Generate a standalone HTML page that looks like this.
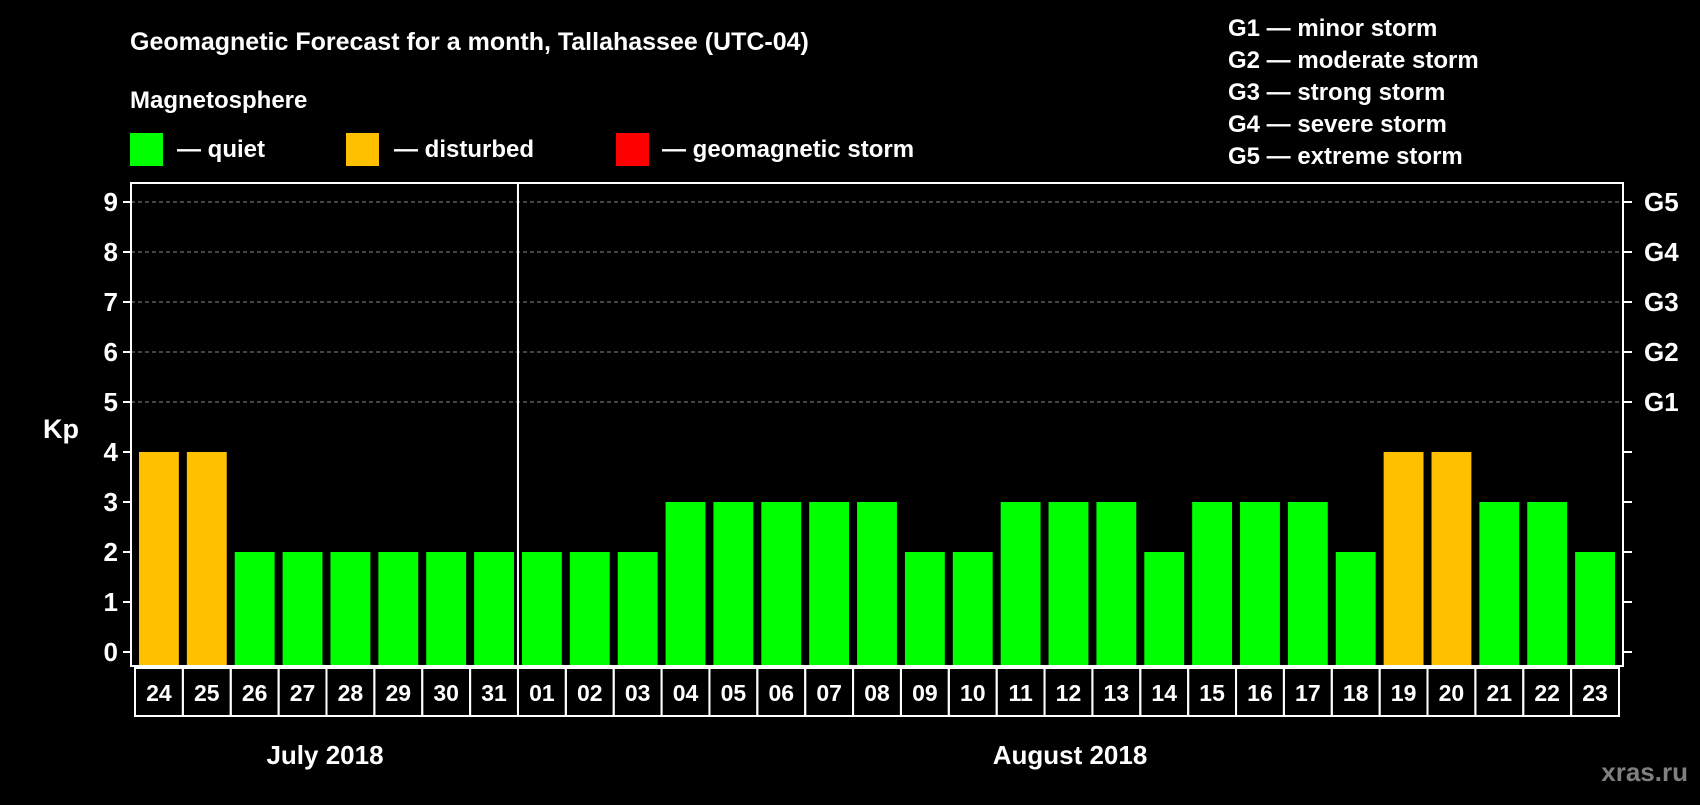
<!DOCTYPE html>
<html><head><meta charset="utf-8"><style>
body{margin:0;background:#000;}
svg text{font-family:"Liberation Sans",Arial,sans-serif;font-weight:bold;fill:#fff;}
</style></head><body>
<svg id="chart" width="1700" height="800" viewBox="0 0 1700 800" xmlns="http://www.w3.org/2000/svg">
<rect width="1700" height="800" fill="#000"/>
<text x="130" y="50" font-size="25">Geomagnetic Forecast for a month, Tallahassee (UTC-04)</text>
<text x="130" y="108" font-size="24">Magnetosphere</text>
<g><rect x="130" y="133" width="33" height="33" fill="#00ff00"/><text x="177" y="157" font-size="24">— quiet</text></g>
<g><rect x="346" y="133" width="33" height="33" fill="#ffc000"/><text x="394" y="157" font-size="24">— disturbed</text></g>
<g><rect x="616" y="133" width="33" height="33" fill="#ff0000"/><text x="662" y="157" font-size="24">— geomagnetic storm</text></g>
<g font-size="24">
<text x="1228" y="36">G1 — minor storm</text>
<text x="1228" y="68">G2 — moderate storm</text>
<text x="1228" y="100">G3 — strong storm</text>
<text x="1228" y="132">G4 — severe storm</text>
<text x="1228" y="164">G5 — extreme storm</text>
</g>
<text x="43" y="438" font-size="27">Kp</text>
<g id="grid"></g><g id="bars"></g><g id="axes"></g>
<text x="325" y="764" font-size="26" text-anchor="middle">July 2018</text>
<text x="1070" y="764" font-size="26" text-anchor="middle">August 2018</text>
<text x="1688" y="781" font-size="26" text-anchor="end" style="fill:#808080">xras.ru</text>
</svg>
<script>
const days=["24","25","26","27","28","29","30","31","01","02","03","04","05","06","07","08","09","10","11","12","13","14","15","16","17","18","19","20","21","22","23"];
const kp=[4,4,2,2,2,2,2,2,2,2,2,3,3,3,3,3,2,2,3,3,3,2,3,3,3,2,4,4,3,3,2];
const yTicks=[0,1,2,3,4,5,6,7,8,9];
const gLabels=["","","","","","G1","G2","G3","G4","G5"];
</script>
<script>
const NS="http://www.w3.org/2000/svg";
const L=131,R=1623,T=183,B=666,Y0=652,Y9=202;
const n=days.length;
const pitch=(R-L-8)/n;
const y=v=>Y0-(Y0-Y9)*v/9;
const x=i=>L+4+i*pitch;
function mk(tag,attrs,parent){const e=document.createElementNS(NS,tag);for(const k in attrs)e.setAttribute(k,attrs[k]);parent.appendChild(e);return e;}
const grid=document.getElementById('grid'),bars=document.getElementById('bars'),axes=document.getElementById('axes');
yTicks.forEach((v,i)=>{
 if(v>=5){const g=mk('line',{x1:L,x2:R,y1:y(v),y2:y(v),stroke:'#888','stroke-dasharray':'4,3','stroke-width':1},grid);
 
 }
 const t1=mk('line',{x1:L-8,x2:L,y1:y(v),y2:y(v),stroke:'#fff','stroke-width':2},axes);
 
 
 const t2=mk('line',{x1:R,x2:R+9,y1:y(v),y2:y(v),stroke:'#fff','stroke-width':2},axes);
 
 
 const lb=mk('text',{x:L-13,y:y(v)+9,'font-size':26,'text-anchor':'end'},axes);lb.textContent=v;
 
 
 if(gLabels[i]){const gl=mk('text',{x:R+21,y:y(v)+9,'font-size':26},axes);gl.textContent=gLabels[i];
 
 }
});
kp.forEach((v,i)=>{
 const col=v>=5?'#ff0000':(v>=4?'#ffc000':'#00ff00');
 const b=mk('rect',{x:x(i)+4,y:y(v),width:pitch-8,height:B-y(v)-1,fill:col},bars);
 
 
 const c=mk('rect',{x:x(i),y:668,width:pitch,height:48,fill:'none',stroke:'#fff','stroke-width':2},axes);
 
 
 const t=mk('text',{x:x(i)+pitch/2,y:701,'font-size':23,'text-anchor':'middle'},axes);t.textContent=days[i];
 
 
});
const fr=mk('rect',{x:L,y:T,width:R-L,height:B-T,fill:'none',stroke:'#fff','stroke-width':2},axes);


const sep=days.indexOf("01");
const sl=mk('line',{x1:x(sep),x2:x(sep),y1:T,y2:B,stroke:'#fff','stroke-width':2},axes);


</script>
</body></html>
